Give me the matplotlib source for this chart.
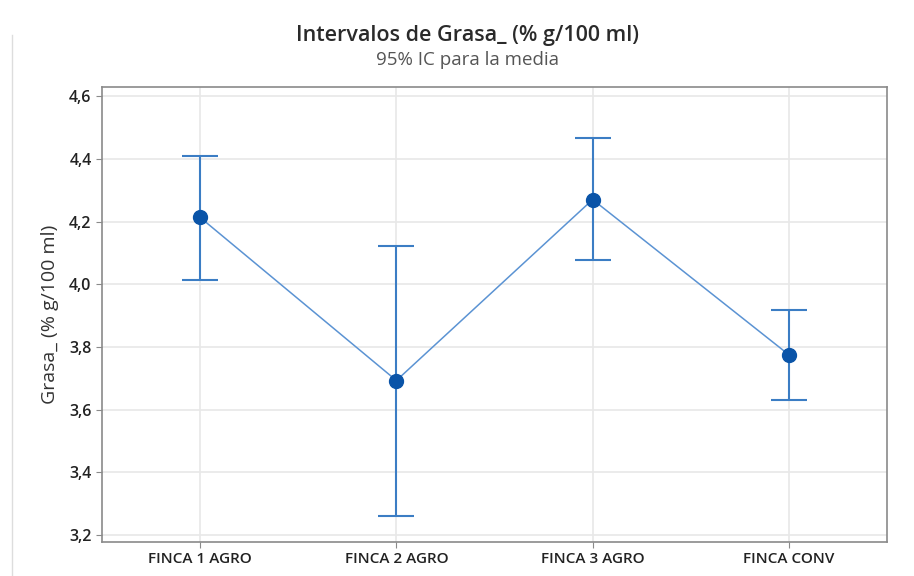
import matplotlib.pyplot as plt
from matplotlib.lines import Line2D

# data
fincas = ['FINCA 1 AGRO', 'FINCA 2 AGRO', 'FINCA 3 AGRO', 'FINCA CONV']
medias = [4.213, 3.693, 4.270, 3.775]
ic_sup = [4.409, 4.123, 4.466, 3.917]
ic_inf = [4.012, 3.262, 4.077, 3.631]
yticks = [3.2, 3.4, 3.6, 3.8, 4.0, 4.2, 4.4, 4.6]
ylabels = ['3,2', '3,4', '3,6', '3,8', '4,0', '4,2', '4,4', '4,6']

plt.rcParams['font.family'] = ['Open Sans', 'DejaVu Sans']

fig = plt.figure(figsize=(9.14, 5.76), dpi=100)
ax = fig.add_axes([0.1116, 0.059, 0.8589, 0.790])

x = list(range(len(fincas)))
err_lo = [m - lo for m, lo in zip(medias, ic_inf)]
err_hi = [hi - m for m, hi in zip(medias, ic_sup)]

ax.plot(x, medias, color='#5b93d3', lw=1.1, zorder=2)
ax.errorbar(x, medias, yerr=[err_lo, err_hi], fmt='none', ecolor='#3b7dc4',
            elinewidth=1.5, capsize=13, capthick=1.5, zorder=3)
ax.plot(x, medias, 'o', color='#0a54a8', ms=10, zorder=4)

ax.set_xlim(-0.5, 3.5)
ax.set_ylim(3.178, 4.629)
ax.set_xticks(x)
ax.set_xticklabels(fincas, fontsize=11, fontweight='semibold', color='#222222')
ax.set_yticks(yticks)
ax.set_yticklabels(ylabels, fontsize=11.5, fontweight='semibold', color='#222222')
ax.grid(True, color='#e8e8e8', lw=1.2)
ax.set_axisbelow(True)
for s in ax.spines.values():
    s.set_color('#8a8a8a')
    s.set_linewidth(1.2)
ax.tick_params(length=4, color='#8a8a8a')

ax.set_ylabel('Grasa_ (% g/100 ml)', fontsize=14, color='#333333', labelpad=7)

fig.text(0.511, 0.938, 'Intervalos de Grasa_ (% g/100 ml)', ha='center', va='center',
         fontsize=15.5, fontweight='semibold', color='#2a2a2a')
fig.text(0.511, 0.895, '95% IC para la media', ha='center', va='center',
         fontsize=13.5, color='#555555')

# thin border line at the left of the screenshot
fig.add_artist(Line2D([0.013, 0.013], [0.0, 0.94], color='#dddddd', lw=1))

fig.savefig('out.png', dpi=100)
